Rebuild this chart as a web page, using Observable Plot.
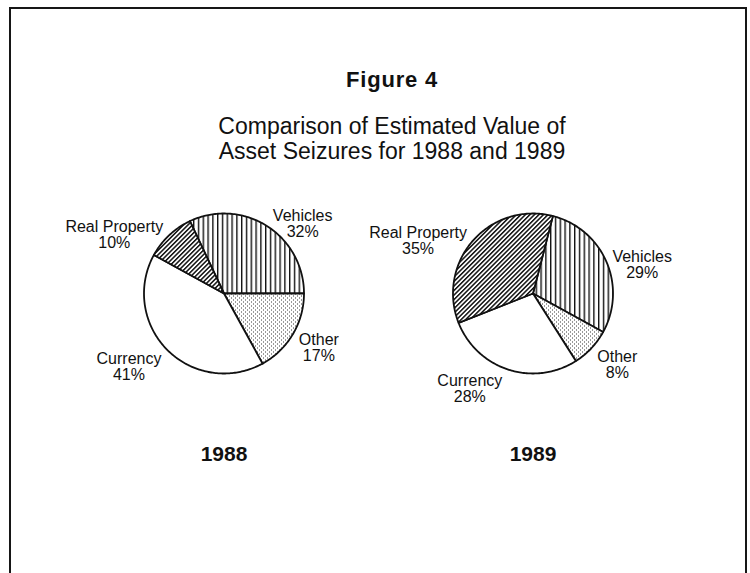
<!DOCTYPE html>
<html>
<head>
<meta charset="utf-8">
<script src="https://cdn.jsdelivr.net/npm/d3@7"></script>
<script src="https://cdn.jsdelivr.net/npm/@observablehq/plot@0.6"></script>
<style>
  html, body { margin: 0; padding: 0; background: #fff; }
  body { width: 750px; height: 573px; overflow: hidden; position: relative;
         font-family: "Liberation Sans", Arial, sans-serif; color: #111; }
  #frame { position: absolute; left: 9px; top: 7px; width: 734px; height: 640px;
           border: 2px solid #161616; border-bottom: none; }
  #title { position: absolute; left: 17px; width: 750px; top: 69px; text-align: center;
           font-weight: bold; font-size: 22px; line-height: 22px; letter-spacing: 0.8px; }
  #subtitle { position: absolute; left: 17px; width: 750px; top: 113.5px; text-align: center;
              font-size: 23px; line-height: 25px; }
  #chart { position: absolute; left: 0; top: 175px; }
</style>
</head>
<body>
<div id="frame"></div>
<div id="title">Figure 4</div>
<div id="subtitle">Comparison of Estimated Value of<br>Asset Seizures for 1988 and 1989</div>
<div id="chart"></div>
<svg width="0" height="0" style="position:absolute;left:0;top:0">
  <defs>
    <pattern id="pat-veh" patternUnits="userSpaceOnUse" width="4.8" height="10">
      <rect width="4.8" height="10" fill="#fff"/>
      <rect x="0" y="0" width="1.4" height="10" fill="#111"/>
    </pattern>
    <pattern id="pat-rp" patternUnits="userSpaceOnUse" width="3.2" height="10" patternTransform="rotate(45)">
      <rect width="3.2" height="10" fill="#fff"/>
      <rect x="0" y="0" width="1.5" height="10" fill="#111"/>
    </pattern>
    <pattern id="pat-oth" patternUnits="userSpaceOnUse" width="4" height="4">
      <rect width="4" height="4" fill="#fff"/>
      <rect x="0" y="0" width="1" height="1" fill="#333"/>
      <rect x="2" y="2" width="1" height="1" fill="#333"/>
    </pattern>
  </defs>
</svg>
<script>
// ---- data ----
const years = ["1988", "1989"];
const categories = ["Vehicles", "Other", "Currency", "Real Property"];
const values1988 = [32, 17, 41, 10];
const values1989 = [29, 8, 28, 35];

// ---- layout / style ----
const startDeg = { "1988": -25.2, "1989": 14.4 };
const sliceFill = {
  "Vehicles": "url(#pat-veh)",
  "Other": "url(#pat-oth)",
  "Currency": "#ffffff",
  "Real Property": "url(#pat-rp)"
};
const W = 750, H = 398;
const R = 80;                 // pie radius in pixels
const ML = 68.5, MR = 63.5, MT = 0, MB = 127;
const CY = 118;               // pie centre, pixels from top of plot frame
const facetW = (W - ML - MR) / 2;
const FONT = '"Liberation Sans", Arial, sans-serif';
const LABEL_SIZE = 16;

const ctx = document.createElement("canvas").getContext("2d");
ctx.font = `${LABEL_SIZE}px ${FONT}`;
const textW = s => ctx.measureText(s).width;

const valuesByYear = { "1988": values1988, "1989": values1989 };
const slicePts = [];
const labels = [];
for (const year of years) {
  const rows = categories.map((c, i) => ({ category: c, value: valuesByYear[year][i] }));
  const s = startDeg[year] * Math.PI / 180;
  const arcs = d3.pie().sort(null).value(d => d.value).startAngle(s).endAngle(s + 2 * Math.PI)(rows);
  for (const a of arcs) {
    const key = year + "-" + a.data.category;
    const fill = sliceFill[a.data.category];
    slicePts.push({ year, key, fill, x: 0, y: 0 });
    const n = Math.max(2, Math.ceil((a.endAngle - a.startAngle) / (Math.PI / 180)));
    for (let k = 0; k <= n; ++k) {
      const t = a.startAngle + (a.endAngle - a.startAngle) * k / n;
      slicePts.push({ year, key, fill, x: Math.sin(t), y: Math.cos(t) });
    }
    const mid = (a.startAngle + a.endAngle) / 2;
    const w = Math.max(textW(a.data.category), textW(a.data.value + "%"));
    const side = Math.sin(mid) >= 0 ? 1 : -1;
    const lxPx = R * Math.sin(mid) + side * (w / 2 + 6);
    const lyDownPx = -(R + 12) * Math.cos(mid) + 8;
    labels.push({ year, x: lxPx / R, y: -lyDownPx / R, text: a.data.category + "\n" + a.data.value + "%" });
  }
}

const chart = Plot.plot({
  width: W, height: H,
  marginLeft: ML, marginRight: MR, marginTop: MT, marginBottom: MB,
  style: { fontFamily: FONT, background: "transparent", color: "#111", overflow: "visible" },
  x: { axis: null, domain: [-facetW / 2 / R, facetW / 2 / R] },
  y: { axis: null, domain: [-(H - MB - MT - CY) / R, CY / R] },
  fx: { domain: years, padding: 0, label: null },
  color: { type: "identity" },
  marks: [
    Plot.line(slicePts, {
      fx: "year", x: "x", y: "y", z: "key", fill: "fill",
      stroke: "#111", strokeWidth: 1.8, strokeLinejoin: "round", curve: "linear-closed"
    }),
    Plot.text(labels, {
      fx: "year", x: "x", y: "y", text: "text",
      fontSize: LABEL_SIZE, lineHeight: 1.0, textAnchor: "middle", lineAnchor: "middle", fill: "#111"
    }),
    Plot.axisFx({ anchor: "bottom", tickSize: 0, tickPadding: 0, label: null,
                  fontSize: 21, fontWeight: "bold" })
  ]
});
document.getElementById("chart").appendChild(chart);
</script>
</body>
</html>
